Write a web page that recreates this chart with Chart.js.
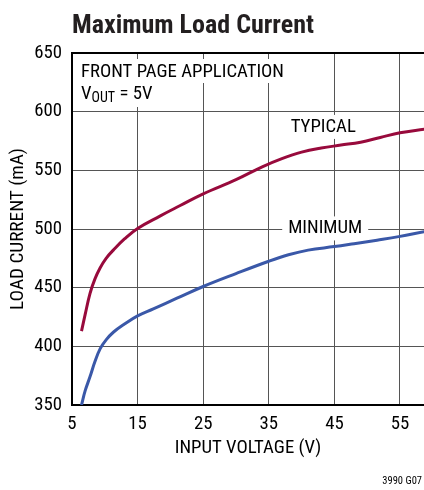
<!DOCTYPE html>
<html><head><meta charset="utf-8">
<script src="https://cdn.jsdelivr.net/npm/chart.js@4.4.1/dist/chart.umd.min.js"></script>
<style>html,body{margin:0;padding:0;background:#fff;overflow:hidden}</style>
</head><body><canvas id="c" width="424" height="490"></canvas>
<script>
// ---- data ----
const typicalX = [6.45, 7.0, 7.74, 8.5, 9.3, 10.2, 11.3, 13, 15, 18.4, 21.5, 25, 30, 34, 37, 40, 43, 46, 49, 52, 55, 58.7];
const typicalY = [413, 427, 445, 457.5, 467, 475, 482, 491.5, 500.5, 511, 520, 530, 542, 553, 560, 565.5, 569, 571.5, 574, 578, 582, 585];
const minimumX = [6.45, 7.0, 7.74, 8.5, 9.3, 10.2, 11.3, 13, 15, 17.4, 21, 25, 30, 35, 38, 41, 45, 48, 51.5, 54.8, 58.7];
const minimumY = [350, 362, 374, 387, 398, 405.5, 412, 419, 426, 432, 441, 451, 462, 472.5, 478, 482, 485, 487.5, 490.5, 493.5, 497.7];
const xTicks = [5, 15, 25, 35, 45, 55];
const yTicks = [350, 400, 450, 500, 550, 600, 650];
const seriesNames = ['TYPICAL', 'MINIMUM'];
const titleText = 'Maximum Load Current';
const xTitle = 'INPUT VOLTAGE (V)';
const yTitle = 'LOAD CURRENT (mA)';
const noteLine1 = 'FRONT PAGE APPLICATION';
const noteLine2 = ['V', 'OUT', ' = 5V'];
const figId = '3990 G07';

const FONT = "'Roboto Condensed', 'Open Sans', sans-serif";
const FS = 18.75;
const toPts = (xs, ys) => xs.map((x, i) => ({x, y: ys[i]}));

const overlay = {
  id: 'overlay',
  beforeDatasetsDraw(chart) {
    const {ctx, chartArea: a, scales: {x, y}} = chart;
    ctx.save();
    ctx.fillStyle = '#fff';
    ctx.fillRect(a.left + 3, a.top + 6, 218, 24);
    ctx.fillRect(a.left + 3, a.top + 29, 88, 25);
    ctx.font = FS + 'px ' + FONT;
    const lbls = [[seriesNames[0], 43.3, 587], [seriesNames[1], 43.6, 500.5]];
    lbls.forEach(([t, xv, yv]) => {
      const w = ctx.measureText(t).width;
      const cx = x.getPixelForValue(xv), cy = y.getPixelForValue(yv);
      ctx.fillRect(cx - w / 2 - 6, cy - 12, w + 12, 24);
    });
    ctx.fillStyle = '#000';
    ctx.textBaseline = 'alphabetic';
    ctx.textAlign = 'left';
    ctx.fillText(noteLine1, a.left + 9, a.top + 24);
    let px = a.left + 9;
    const by = a.top + 46;
    ctx.fillText(noteLine2[0], px, by);
    px += ctx.measureText(noteLine2[0]).width;
    ctx.font = '14px ' + FONT;
    ctx.fillText(noteLine2[1], px, by + 3);
    px += ctx.measureText(noteLine2[1]).width;
    ctx.font = FS + 'px ' + FONT;
    ctx.fillText(noteLine2[2], px, by);
    ctx.textAlign = 'center';
    ctx.textBaseline = 'middle';
    lbls.forEach(([t, xv, yv]) => {
      ctx.fillText(t, x.getPixelForValue(xv), y.getPixelForValue(yv));
    });
    ctx.restore();
  },
  afterDraw(chart) {
    const {ctx, chartArea: a} = chart;
    ctx.save();
    ctx.fillStyle = '#231f20';
    ctx.font = 'bold 26px ' + FONT;
    ctx.textAlign = 'left';
    ctx.textBaseline = 'alphabetic';
    ctx.fillText(titleText, a.left, 33);
    ctx.fillStyle = '#000';
    ctx.font = '10.5px ' + FONT;
    ctx.textAlign = 'right';
    ctx.fillText(figId, 422, 484);
    ctx.restore();
  }
};

new Chart(document.getElementById('c'), {
  type: 'scatter',
  data: {
    datasets: [
      {label: seriesNames[0], data: toPts(typicalX, typicalY), showLine: true, borderColor: '#980a3c', borderWidth: 3, pointRadius: 0, tension: 0.4, fill: false},
      {label: seriesNames[1], data: toPts(minimumX, minimumY), showLine: true, borderColor: '#3a58a8', borderWidth: 3, pointRadius: 0, tension: 0.4, fill: false}
    ]
  },
  options: {
    responsive: false,
    animation: false,
    devicePixelRatio: 1,
    layout: {padding: {top: 53, right: 0, left: 0, bottom: 0}},
    plugins: {legend: {display: false}, tooltip: {enabled: false}, title: {display: false}},
    scales: {
      x: {
        type: 'linear', min: 5, max: 58.66,
        afterBuildTicks: s => { s.ticks = xTicks.map(v => ({value: v})); },
        afterFit: s => { s.height = 85; },
        grid: {color: '#555', lineWidth: 1, drawTicks: false},
        border: {color: '#000', width: 2},
        ticks: {color: '#000', font: {family: FONT, size: FS}, padding: 8, maxRotation: 0, autoSkip: false},
        title: {display: true, text: xTitle, color: '#000', font: {family: FONT, size: FS}, padding: {top: 0, bottom: 30}}
      },
      y: {
        min: 350, max: 650,
        afterBuildTicks: s => { s.ticks = yTicks.map(v => ({value: v})); },
        afterFit: s => { s.width = 72; },
        grid: {color: c => c.tick && c.tick.value === 650 ? '#000' : '#555', lineWidth: c => c.tick && c.tick.value === 650 ? 2 : 1, drawTicks: false},
        border: {color: '#000', width: 2},
        ticks: {color: '#000', font: {family: FONT, size: FS}, padding: 10},
        title: {display: true, text: yTitle, color: '#000', font: {family: FONT, size: 19.25}, padding: {top: 7, bottom: 0}}
      }
    }
  },
  plugins: [overlay]
});
</script></body></html>
